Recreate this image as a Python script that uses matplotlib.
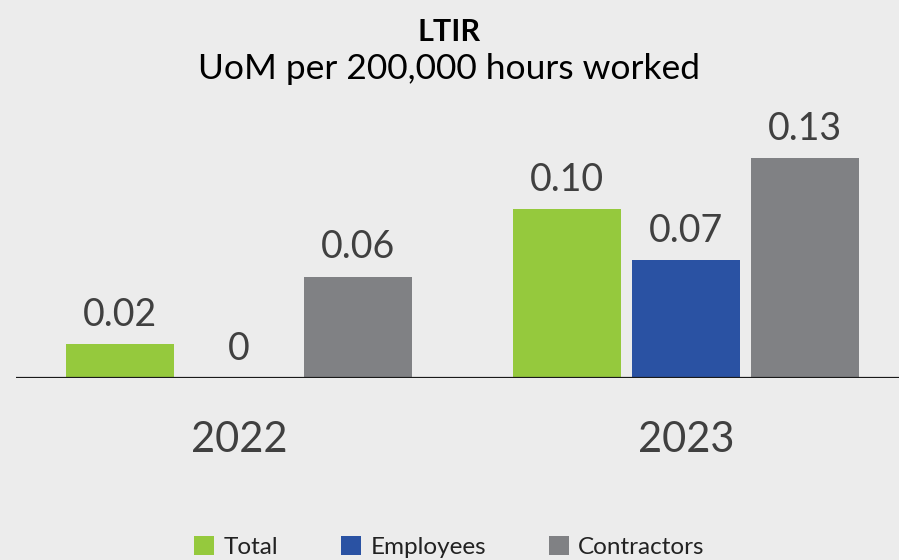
import matplotlib

matplotlib.use("Agg")
import matplotlib.pyplot as plt  # noqa: E402
from matplotlib.patches import Patch  # noqa: E402

years = ["2022", "2023"]
series = ["Total", "Employees", "Contractors"]
total = [0.02, 0.10]
employees = [0.00, 0.07]
contractors = [0.06, 0.13]
labels = [["0.02", "0.10"], ["0", "0.07"], ["0.06", "0.13"]]

colors = ["#95c93d", "#2a52a3", "#808184"]
BG = "#ececec"
TXT = "#404040"

plt.rcParams["font.family"] = ["Lato", "DejaVu Sans"]

W, H = 899, 560
fig = plt.figure(figsize=(W / 100, H / 100), dpi=100, facecolor=BG)

# axes box in pixel coordinates: baseline at y=378, data area up to y=100
left, right, base, top = 16, 899, 378, 100
ax = fig.add_axes([left / W, (H - base) / H, (right - left) / W, (base - top) / H])
ax.set_facecolor(BG)

px_per_unit = 1690.0
ax.set_ylim(0, (base - top) / px_per_unit)

group_gap = 447.0
offset = 119.0 / group_gap
width = 108.0 / group_gap
ax.set_xlim((left - 239) / group_gap, (right - 239) / group_gap)

for i, (vals, col) in enumerate(zip([total, employees, contractors], colors)):
    xs = [g + (i - 1) * offset for g in range(len(years))]
    bars = ax.bar(xs, vals, width=width, color=col, zorder=2)
    for b, v, lab in zip(bars, vals, labels[i]):
        ax.annotate(lab, (b.get_x() + b.get_width() / 2, v),
                    xytext=(0, 8), textcoords="offset points",
                    ha="center", va="bottom", fontsize=27, color=TXT)

ax.axhline(0, color="#1a1a1a", lw=1.6, zorder=3)
for s in ax.spines.values():
    s.set_visible(False)
ax.set_yticks([])
ax.set_xticks(range(len(years)))
ax.set_xticklabels(years, fontsize=30, color=TXT)
ax.tick_params(axis="x", length=0, pad=31)

fig.text(0.5, 1 - 32 / H, "LTIR", ha="center", va="center",
         fontsize=22, fontweight="bold", color="black")
fig.text(0.5, 1 - 69 / H, "UoM per 200,000 hours worked", ha="center",
         va="center", fontsize=25.5, color="black")

handles = [Patch(facecolor=c, edgecolor="none") for c in colors]
fig.legend(handles, series, loc="center", bbox_to_anchor=(0.5, 1 - 547 / H),
           ncol=3, frameon=False, fontsize=17.5, handlelength=0.8,
           handleheight=0.8, handletextpad=0.4, columnspacing=2.6,
           labelcolor="#222222")

fig.savefig("out.png", dpi=100, facecolor=BG)
